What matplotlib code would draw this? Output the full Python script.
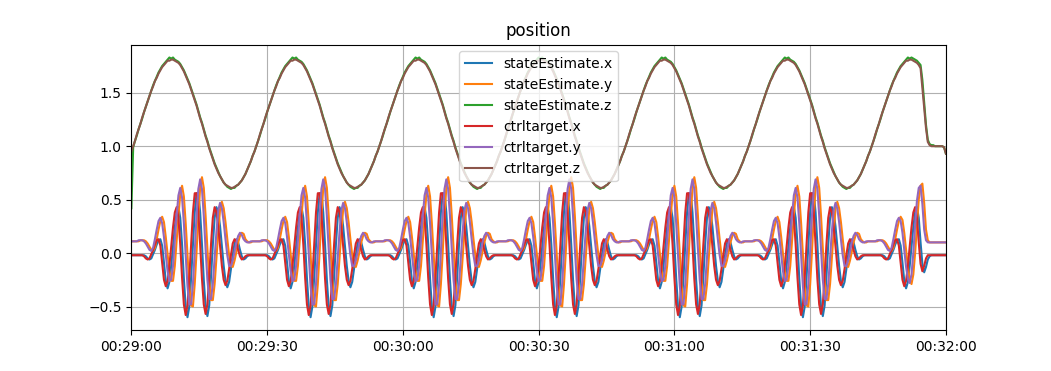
import numpy as np
import matplotlib
matplotlib.use("Agg")
import matplotlib.pyplot as plt
import matplotlib.dates as mdates

# position log, one sample every 0.4 s starting at 00:29:00, values in cm
sample_period_s = 0.4
start = np.datetime64("2023-01-01T00:29:00")
end = np.datetime64("2023-01-01T00:32:00")

state_x_cm = [
    -2, -2, -2, -2, -2, -2, -2, -2, -3, -5, -6, -5, -1, 3, 8, 12, 13, 7, -9, -26, -33, -27, -12, 6, 24, 38, 43, 33, 8, -24, -50, -60, -50, -23, 8, 38, 56, 56, 38, 8, -25, -50, -59, -49, -22, 8, 33, 43, 38, 25, 6, -12, -26, -32, -27, -15, -2, 9, 13, 10, 3, -3, -6, -5, -3, -2, -2, -2,
    -2, -2, -2, -2, -2, -2, -2, -2, -3, -5, -6, -5, -1, 3, 8, 12, 13, 7, -9, -26, -33, -27, -12, 6, 24, 38, 43, 33, 8, -24, -50, -60, -50, -23, 8, 38, 56, 56, 38, 8, -25, -50, -59, -49, -22, 8, 33, 43, 38, 25, 6, -12, -26, -32, -27, -15, -2, 9, 13, 10, 3, -3, -6, -5, -3, -2, -2, -2,
    -2, -2, -2, -2, -2, -2, -2, -2, -3, -5, -6, -5, -1, 3, 8, 12, 13, 7, -9, -26, -33, -27, -12, 6, 24, 38, 43, 33, 8, -24, -50, -60, -50, -23, 8, 38, 56, 56, 38, 8, -25, -50, -59, -49, -22, 8, 33, 43, 38, 25, 6, -12, -26, -32, -27, -15, -2, 9, 13, 10, 3, -3, -6, -5, -3, -2, -2, -2,
    -2, -2, -2, -2, -2, -2, -2, -2, -3, -5, -6, -5, -1, 3, 8, 12, 13, 7, -9, -26, -33, -27, -12, 6, 24, 38, 43, 33, 8, -24, -50, -60, -50, -23, 8, 38, 56, 56, 38, 8, -25, -50, -59, -49, -22, 8, 33, 43, 38, 25, 6, -12, -26, -32, -27, -15, -2, 9, 13, 10, 3, -3, -6, -5, -3, -2, -2, -2,
    -2, -2, -2, -2, -2, -2, -2, -2, -3, -5, -6, -5, -1, 3, 8, 12, 13, 7, -9, -26, -33, -27, -12, 6, 24, 38, 43, 33, 8, -24, -50, -60, -50, -23, 8, 38, 56, 56, 38, 8, -25, -50, -59, -49, -22, 8, 33, 43, 38, 25, 6, -12, -26, -32, -27, -15, -2, 9, 13, 10, 3, -3, -6, -5, -3, -2, -2, -2,
    -2, -2, -2, -2, -2, -2, -2, -2, -3, -5, -6, -5, -1, 3, 8, 12, 13, 7, -9, -26, -33, -27, -12, 6, 24, 38, 43, 33, 8, -24, -50, -60, -50, -23, 8, 38, 56, 56, 38, 8, -25, -50, -59, -49, -22, 8, 33, 43, 38, 25, 6, -12, -26, -32, -27, -15, -2, 9, 13, 10, 3, -3, -6, -5, -3, -2, -2, -2,
    -2, -2, -2, -2, -2, -2, -2, -2, -3, -5, -6, -5, -1, 3, 8, 12, 13, 7, -9, -26, -33, -27, -12, 6, 24, 38, 43, 33, 10, -10, -18, -13, -6, -3, -2, -2, -2, -2, -2, -2, -2, -2, -2,
]

state_y_cm = [
    11, 11, 11, 11, 11, 12, 12, 12, 11, 9, 6, 3, 2, 5, 13, 22, 30, 34, 29, 15, -1, -17, -26, -26, -12, 11, 35, 55, 63, 53, 28, -2, -31, -49, -50, -29, 1, 35, 61, 71, 61, 35, 4, -25, -44, -44, -29, -5, 20, 41, 48, 42, 29, 13, -2, -12, -13, -7, 1, 10, 16, 19, 18, 13, 11, 10, 10, 11,
    11, 11, 11, 11, 11, 12, 12, 12, 11, 9, 6, 3, 2, 5, 13, 22, 30, 34, 29, 15, -1, -17, -26, -26, -12, 11, 35, 55, 63, 53, 28, -2, -31, -49, -50, -29, 1, 35, 61, 71, 61, 35, 4, -25, -44, -44, -29, -5, 20, 41, 48, 42, 29, 13, -2, -12, -13, -7, 1, 10, 16, 19, 18, 13, 11, 10, 10, 11,
    11, 11, 11, 11, 11, 12, 12, 12, 11, 9, 6, 3, 2, 5, 13, 22, 30, 34, 29, 15, -1, -17, -26, -26, -12, 11, 35, 55, 63, 53, 28, -2, -31, -49, -50, -29, 1, 35, 61, 71, 61, 35, 4, -25, -44, -44, -29, -5, 20, 41, 48, 42, 29, 13, -2, -12, -13, -7, 1, 10, 16, 19, 18, 13, 11, 10, 10, 11,
    11, 11, 11, 11, 11, 12, 12, 12, 11, 9, 6, 3, 2, 5, 13, 22, 30, 34, 29, 15, -1, -17, -26, -26, -12, 11, 35, 55, 63, 53, 28, -2, -31, -49, -50, -29, 1, 35, 61, 71, 61, 35, 4, -25, -44, -44, -29, -5, 20, 41, 48, 42, 29, 13, -2, -12, -13, -7, 1, 10, 16, 19, 18, 13, 11, 10, 10, 11,
    11, 11, 11, 11, 11, 12, 12, 12, 11, 9, 6, 3, 2, 5, 13, 22, 30, 34, 29, 15, -1, -17, -26, -26, -12, 11, 35, 55, 63, 53, 28, -2, -31, -49, -50, -29, 1, 35, 61, 71, 61, 35, 4, -25, -44, -44, -29, -5, 20, 41, 48, 42, 29, 13, -2, -12, -13, -7, 1, 10, 16, 19, 18, 13, 11, 10, 10, 11,
    11, 11, 11, 11, 11, 12, 12, 12, 11, 9, 6, 3, 2, 5, 13, 22, 30, 34, 29, 15, -1, -17, -26, -26, -12, 11, 35, 55, 63, 53, 28, -2, -31, -49, -50, -29, 1, 35, 61, 71, 61, 35, 4, -25, -44, -44, -29, -5, 20, 41, 48, 42, 29, 13, -2, -12, -13, -7, 1, 10, 16, 19, 18, 13, 11, 10, 10, 11,
    11, 11, 11, 11, 11, 12, 12, 12, 11, 9, 6, 3, 2, 5, 13, 22, 30, 34, 31, 19, 3, -13, -25, -29, -20, 0, 26, 50, 63, 65, 47, 22, 12, 10, 10, 10, 10, 10, 10, 10, 10, 10, 10,
]

state_z_cm = [
    42, 99, 105, 110, 116, 121, 126, 132, 137, 142, 147, 152, 157, 161, 165, 169, 172, 175, 177, 179, 181, 183, 182, 183, 181, 180, 179, 177, 174, 171, 167, 163, 159, 154, 149, 144, 139, 133, 127, 122, 116, 110, 105, 99, 94, 89, 84, 80, 76, 72, 69, 66, 64, 62, 61, 60, 61, 61, 63, 64, 66, 68, 71, 74, 78, 82, 86, 91,
    95, 100, 105, 110, 116, 121, 126, 132, 137, 142, 147, 152, 157, 161, 165, 169, 172, 175, 177, 179, 181, 183, 182, 183, 181, 180, 179, 177, 174, 171, 167, 163, 159, 154, 149, 144, 139, 133, 127, 122, 116, 110, 105, 99, 94, 89, 84, 80, 76, 72, 69, 66, 64, 62, 61, 60, 61, 61, 63, 64, 66, 68, 71, 74, 78, 82, 86, 91,
    95, 100, 105, 110, 116, 121, 126, 132, 137, 142, 147, 152, 157, 161, 165, 169, 172, 175, 177, 179, 181, 183, 182, 183, 181, 180, 179, 177, 174, 171, 167, 163, 159, 154, 149, 144, 139, 133, 127, 122, 116, 110, 105, 99, 94, 89, 84, 80, 76, 72, 69, 66, 64, 62, 61, 60, 61, 61, 63, 64, 66, 68, 71, 74, 78, 82, 86, 91,
    95, 100, 105, 110, 116, 121, 126, 132, 137, 142, 147, 152, 157, 161, 165, 169, 172, 175, 177, 179, 181, 183, 182, 183, 181, 180, 179, 177, 174, 171, 167, 163, 159, 154, 149, 144, 139, 133, 127, 122, 116, 110, 105, 99, 94, 89, 84, 80, 76, 72, 69, 66, 64, 62, 61, 60, 61, 61, 63, 64, 66, 68, 71, 74, 78, 82, 86, 91,
    95, 100, 105, 110, 116, 121, 126, 132, 137, 142, 147, 152, 157, 161, 165, 169, 172, 175, 177, 179, 181, 183, 182, 183, 181, 180, 179, 177, 174, 171, 167, 163, 159, 154, 149, 144, 139, 133, 127, 122, 116, 110, 105, 99, 94, 89, 84, 80, 76, 72, 69, 66, 64, 62, 61, 60, 61, 61, 63, 64, 66, 68, 71, 74, 78, 82, 86, 91,
    95, 100, 105, 110, 116, 121, 126, 132, 137, 142, 147, 152, 157, 161, 165, 169, 172, 175, 177, 179, 181, 183, 182, 183, 181, 180, 179, 177, 174, 171, 167, 163, 159, 154, 149, 144, 139, 133, 127, 122, 116, 110, 105, 99, 94, 89, 84, 80, 76, 72, 69, 66, 64, 62, 61, 60, 61, 61, 63, 64, 66, 68, 71, 74, 78, 82, 86, 91,
    95, 100, 105, 110, 116, 121, 126, 132, 137, 142, 147, 152, 157, 161, 165, 169, 172, 175, 177, 179, 181, 183, 182, 183, 182, 181, 180, 178, 176, 162, 141, 120, 106, 102, 101, 101, 100, 100, 100, 100, 100, 99, 93,
]

ctrl_x_cm = [
    -2, -2, -2, -2, -2, -2, -2, -3, -5, -6, -5, -1, 3, 8, 12, 13, 7, -9, -25, -31, -26, -12, 6, 24, 38, 43, 33, 8, -23, -48, -58, -49, -23, 8, 38, 56, 56, 38, 8, -24, -48, -57, -48, -22, 8, 33, 43, 38, 25, 6, -12, -25, -30, -26, -15, -2, 9, 13, 10, 3, -3, -6, -5, -3, -2, -2, -2, -2,
    -2, -2, -2, -2, -2, -2, -2, -3, -5, -6, -5, -1, 3, 8, 12, 13, 7, -9, -25, -31, -26, -12, 6, 24, 38, 43, 33, 8, -23, -48, -58, -49, -23, 8, 38, 56, 56, 38, 8, -24, -48, -57, -48, -22, 8, 33, 43, 38, 25, 6, -12, -25, -30, -26, -15, -2, 9, 13, 10, 3, -3, -6, -5, -3, -2, -2, -2, -2,
    -2, -2, -2, -2, -2, -2, -2, -3, -5, -6, -5, -1, 3, 8, 12, 13, 7, -9, -25, -31, -26, -12, 6, 24, 38, 43, 33, 8, -23, -48, -58, -49, -23, 8, 38, 56, 56, 38, 8, -24, -48, -57, -48, -22, 8, 33, 43, 38, 25, 6, -12, -25, -30, -26, -15, -2, 9, 13, 10, 3, -3, -6, -5, -3, -2, -2, -2, -2,
    -2, -2, -2, -2, -2, -2, -2, -3, -5, -6, -5, -1, 3, 8, 12, 13, 7, -9, -25, -31, -26, -12, 6, 24, 38, 43, 33, 8, -23, -48, -58, -49, -23, 8, 38, 56, 56, 38, 8, -24, -48, -57, -48, -22, 8, 33, 43, 38, 25, 6, -12, -25, -30, -26, -15, -2, 9, 13, 10, 3, -3, -6, -5, -3, -2, -2, -2, -2,
    -2, -2, -2, -2, -2, -2, -2, -3, -5, -6, -5, -1, 3, 8, 12, 13, 7, -9, -25, -31, -26, -12, 6, 24, 38, 43, 33, 8, -23, -48, -58, -49, -23, 8, 38, 56, 56, 38, 8, -24, -48, -57, -48, -22, 8, 33, 43, 38, 25, 6, -12, -25, -30, -26, -15, -2, 9, 13, 10, 3, -3, -6, -5, -3, -2, -2, -2, -2,
    -2, -2, -2, -2, -2, -2, -2, -3, -5, -6, -5, -1, 3, 8, 12, 13, 7, -9, -25, -31, -26, -12, 6, 24, 38, 43, 33, 8, -23, -48, -58, -49, -23, 8, 38, 56, 56, 38, 8, -24, -48, -57, -48, -22, 8, 33, 43, 38, 25, 6, -12, -25, -30, -26, -15, -2, 9, 13, 10, 3, -3, -6, -5, -3, -2, -2, -2, -2,
    -2, -2, -2, -2, -2, -2, -2, -3, -5, -6, -5, -1, 3, 8, 12, 13, 7, -9, -25, -31, -26, -12, 6, 24, 38, 43, 33, 10, -10, -17, -12, -5, -2, -2, -2, -2, -2, -2, -2, -2, -2, -2, -2,
]

ctrl_y_cm = [
    11, 11, 11, 11, 12, 12, 12, 11, 9, 6, 3, 2, 5, 13, 22, 30, 33, 28, 15, -1, -17, -26, -25, -12, 11, 35, 54, 61, 52, 28, -2, -31, -48, -48, -29, 1, 35, 60, 69, 60, 35, 4, -25, -43, -43, -29, -5, 20, 40, 47, 42, 29, 13, -2, -12, -12, -7, 1, 10, 16, 19, 17, 13, 11, 10, 10, 11, 11,
    11, 11, 11, 11, 12, 12, 12, 11, 9, 6, 3, 2, 5, 13, 22, 30, 33, 28, 15, -1, -17, -26, -25, -12, 11, 35, 54, 61, 52, 28, -2, -31, -48, -48, -29, 1, 35, 60, 69, 60, 35, 4, -25, -43, -43, -29, -5, 20, 40, 47, 42, 29, 13, -2, -12, -12, -7, 1, 10, 16, 19, 17, 13, 11, 10, 10, 11, 11,
    11, 11, 11, 11, 12, 12, 12, 11, 9, 6, 3, 2, 5, 13, 22, 30, 33, 28, 15, -1, -17, -26, -25, -12, 11, 35, 54, 61, 52, 28, -2, -31, -48, -48, -29, 1, 35, 60, 69, 60, 35, 4, -25, -43, -43, -29, -5, 20, 40, 47, 42, 29, 13, -2, -12, -12, -7, 1, 10, 16, 19, 17, 13, 11, 10, 10, 11, 11,
    11, 11, 11, 11, 12, 12, 12, 11, 9, 6, 3, 2, 5, 13, 22, 30, 33, 28, 15, -1, -17, -26, -25, -12, 11, 35, 54, 61, 52, 28, -2, -31, -48, -48, -29, 1, 35, 60, 69, 60, 35, 4, -25, -43, -43, -29, -5, 20, 40, 47, 42, 29, 13, -2, -12, -12, -7, 1, 10, 16, 19, 17, 13, 11, 10, 10, 11, 11,
    11, 11, 11, 11, 12, 12, 12, 11, 9, 6, 3, 2, 5, 13, 22, 30, 33, 28, 15, -1, -17, -26, -25, -12, 11, 35, 54, 61, 52, 28, -2, -31, -48, -48, -29, 1, 35, 60, 69, 60, 35, 4, -25, -43, -43, -29, -5, 20, 40, 47, 42, 29, 13, -2, -12, -12, -7, 1, 10, 16, 19, 17, 13, 11, 10, 10, 11, 11,
    11, 11, 11, 11, 12, 12, 12, 11, 9, 6, 3, 2, 5, 13, 22, 30, 33, 28, 15, -1, -17, -26, -25, -12, 11, 35, 54, 61, 52, 28, -2, -31, -48, -48, -29, 1, 35, 60, 69, 60, 35, 4, -25, -43, -43, -29, -5, 20, 40, 47, 42, 29, 13, -2, -12, -12, -7, 1, 10, 16, 19, 17, 13, 11, 10, 10, 11, 11,
    11, 11, 11, 11, 12, 12, 12, 11, 9, 6, 3, 2, 5, 13, 22, 30, 33, 30, 19, 3, -13, -24, -28, -20, 0, 26, 49, 61, 63, 46, 22, 12, 10, 10, 10, 10, 10, 10, 10, 10, 10, 10, 10,
]

ctrl_z_cm = [
    95, 100, 105, 111, 116, 121, 127, 132, 137, 142, 147, 152, 156, 161, 164, 168, 171, 174, 176, 178, 180, 180, 181, 181, 180, 179, 178, 176, 173, 170, 166, 162, 158, 153, 148, 143, 138, 132, 126, 121, 115, 109, 104, 98, 93, 88, 83, 79, 75, 72, 69, 66, 64, 63, 62, 61, 61, 62, 63, 64, 66, 68, 71, 74, 78, 82, 86, 91,
    95, 100, 105, 111, 116, 121, 127, 132, 137, 142, 147, 152, 156, 161, 164, 168, 171, 174, 176, 178, 180, 180, 181, 181, 180, 179, 178, 176, 173, 170, 166, 162, 158, 153, 148, 143, 138, 132, 126, 121, 115, 109, 104, 98, 93, 88, 83, 79, 75, 72, 69, 66, 64, 63, 62, 61, 61, 62, 63, 64, 66, 68, 71, 74, 78, 82, 86, 91,
    95, 100, 105, 111, 116, 121, 127, 132, 137, 142, 147, 152, 156, 161, 164, 168, 171, 174, 176, 178, 180, 180, 181, 181, 180, 179, 178, 176, 173, 170, 166, 162, 158, 153, 148, 143, 138, 132, 126, 121, 115, 109, 104, 98, 93, 88, 83, 79, 75, 72, 69, 66, 64, 63, 62, 61, 61, 62, 63, 64, 66, 68, 71, 74, 78, 82, 86, 91,
    95, 100, 105, 111, 116, 121, 127, 132, 137, 142, 147, 152, 156, 161, 164, 168, 171, 174, 176, 178, 180, 180, 181, 181, 180, 179, 178, 176, 173, 170, 166, 162, 158, 153, 148, 143, 138, 132, 126, 121, 115, 109, 104, 98, 93, 88, 83, 79, 75, 72, 69, 66, 64, 63, 62, 61, 61, 62, 63, 64, 66, 68, 71, 74, 78, 82, 86, 91,
    95, 100, 105, 111, 116, 121, 127, 132, 137, 142, 147, 152, 156, 161, 164, 168, 171, 174, 176, 178, 180, 180, 181, 181, 180, 179, 178, 176, 173, 170, 166, 162, 158, 153, 148, 143, 138, 132, 126, 121, 115, 109, 104, 98, 93, 88, 83, 79, 75, 72, 69, 66, 64, 63, 62, 61, 61, 62, 63, 64, 66, 68, 71, 74, 78, 82, 86, 91,
    95, 100, 105, 111, 116, 121, 127, 132, 137, 142, 147, 152, 156, 161, 164, 168, 171, 174, 176, 178, 180, 180, 181, 181, 180, 179, 178, 176, 173, 170, 166, 162, 158, 153, 148, 143, 138, 132, 126, 121, 115, 109, 104, 98, 93, 88, 83, 79, 75, 72, 69, 66, 64, 63, 62, 61, 61, 62, 63, 64, 66, 68, 71, 74, 78, 82, 86, 91,
    95, 100, 105, 111, 116, 121, 127, 132, 137, 142, 147, 152, 156, 161, 164, 168, 171, 174, 176, 178, 180, 180, 181, 181, 180, 179, 178, 176, 173, 155, 136, 117, 104, 101, 100, 100, 100, 100, 100, 100, 100, 99, 93,
]

series = {
    "stateEstimate.x": state_x_cm,
    "stateEstimate.y": state_y_cm,
    "stateEstimate.z": state_z_cm,
    "ctrltarget.x": ctrl_x_cm,
    "ctrltarget.y": ctrl_y_cm,
    "ctrltarget.z": ctrl_z_cm,
}

n = len(ctrl_x_cm)
offsets_ms = (np.arange(n) * sample_period_s * 1000).astype("timedelta64[ms]")
times = start + offsets_ms

fig, ax = plt.subplots(figsize=(10.51, 3.71), dpi=100)
for label, values in series.items():
    ax.plot(times, np.asarray(values) / 100.0, label=label)

ax.set_title("position")
ax.grid(True)
ax.legend(loc="upper center")
ax.set_xlim(start, end)
ax.xaxis.set_major_locator(mdates.SecondLocator(bysecond=[0, 30]))
ax.xaxis.set_major_formatter(mdates.DateFormatter("%H:%M:%S"))

fig.savefig("out.png")
